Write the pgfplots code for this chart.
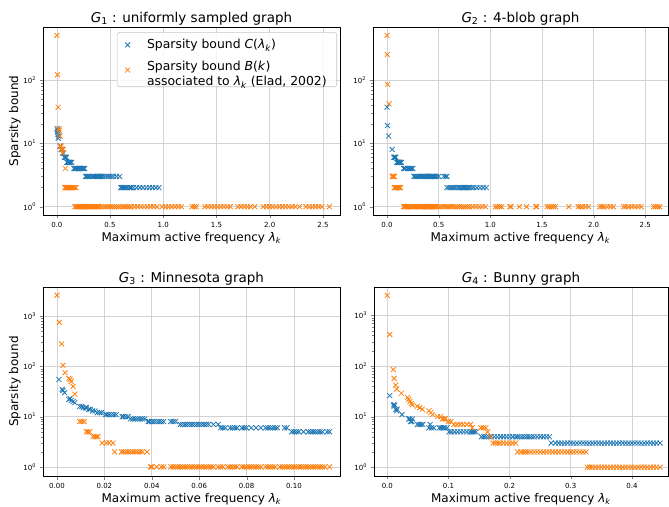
\documentclass[border=0pt]{standalone}
\usepackage{fontspec}
\setmainfont{DejaVu Sans}
\usepackage{pgfplots}
\pgfplotsset{compat=1.18}

\definecolor{tabblue}{HTML}{1F77B4}
\definecolor{taborange}{HTML}{FF7F0E}

\newcommand{\lk}{\textit{λ}\textsubscript{\textit{k}}}

\pgfplotsset{
  panel/.style={scale only axis, anchor=south west,
    grid=major, major grid style={gray!35, line width=0.6pt},
    tick align=outside, xtick pos=bottom, ytick pos=left,
    major tick length=3.5pt, minor tick length=2pt,
    axis line style={line width=0.6pt},
    ticklabel style={font=\fontsize{7}{8}\selectfont},
    title style={font=\fontsize{13.5}{15}\selectfont, yshift=-8pt},
    label style={font=\fontsize{12}{14}\selectfont},
    xlabel style={yshift=2pt}, ylabel style={yshift=-4pt},
    xlabel={Maximum active frequency \lk}},
  cbound/.style={only marks, mark=x, mark size=3.5pt, color=tabblue, mark options={line width=0.8pt}},
  bbound/.style={only marks, mark=x, mark size=3.5pt, color=taborange, mark options={line width=0.8pt}},
}

\begin{document}
\begin{tikzpicture}
\useasboundingbox (0,0) rectangle (669pt,506pt);

% G1
\begin{axis}[panel, ymode=log, at={(43pt,291pt)}, width=297pt, height=188pt,
  xmin=-0.13, xmax=2.66, ymin=0.74, ymax=680,
  xtick={0,0.5,1,1.5,2,2.5},
  xticklabels={0.0,0.5,1.0,1.5,2.0,2.5},
  ytick={1,10,100}, yticklabels={10\textsuperscript{0},10\textsuperscript{1},10\textsuperscript{2}},
  ylabel={Sparsity bound},
  title={\textit{G}\textsubscript{1} : uniformly sampled graph},
  legend cell align=left,
  legend style={at={(0.99,0.973)}, anchor=north east, font=\fontsize{12.4}{15}\selectfont,
    draw=gray!45, line width=0.6pt, rounded corners=2.5pt, fill=white, fill opacity=0.8, text opacity=1,
    row sep=6pt, column sep=15pt, inner xsep=8pt, inner ysep=5pt}]
\addplot[cbound] coordinates {(0.002,17)(0.005,15)(0.008,16)(0.010,14)(0.013,12)(0.018,13)(0.03,9)(0.034,9)(0.04,8)(0.045,8)(0.05,8)(0.055,7)(0.062,7)(0.07,6)(0.075,6)(0.08,6)(0.085,6)(0.09,6)(0.095,5)(0.1,5)(0.105,5)(0.11,5)(0.115,5)(0.12,5)(0.13,5)(0.14,5)
(0.16,4)(0.17,4)(0.175,4)(0.18,4)(0.19,4)(0.2,4)(0.205,4)(0.21,4)(0.215,4)(0.22,4)(0.23,4)(0.24,4)(0.25,4)(0.26,4)
(0.27,3)(0.28,3)(0.29,3)(0.30,3)(0.31,3)(0.33,3)(0.34,3)(0.35,3)(0.36,3)(0.37,3)(0.38,3)(0.385,3)(0.39,3)(0.4,3)(0.41,3)(0.42,3)(0.43,3)(0.45,3)(0.47,3)(0.49,3)(0.51,3)(0.53,3)(0.56,3)(0.59,3)
(0.6,2)(0.61,2)(0.62,2)(0.63,2)(0.64,2)(0.65,2)(0.66,2)(0.68,2)(0.69,2)(0.7,2)(0.72,2)(0.75,2)(0.78,2)(0.81,2)(0.84,2)(0.87,2)(0.9,2)(0.93,2)(0.96,2)};
\addlegendentry{Sparsity bound \textit{C}(\lk)}
\addplot[bbound] coordinates {(0.0,500)(0.006,120)(0.012,37)(0.02,17)(0.024,16)(0.03,13)(0.034,9)(0.04,9)(0.045,8)(0.05,8)(0.055,7)(0.06,8)(0.08,4)
(0.075,2)(0.085,2)(0.09,2)(0.1,2)(0.105,2)(0.11,2)(0.12,2)(0.13,2)(0.14,2)(0.15,2)(0.16,2)(0.17,2)(0.18,2)
(0.17,1)(0.18,1)(0.19,1)(0.2,1)(0.21,1)(0.22,1)(0.23,1)(0.24,1)(0.25,1)(0.26,1)(0.27,1)(0.28,1)(0.29,1)(0.3,1)(0.31,1)(0.32,1)(0.33,1)(0.34,1)(0.35,1)(0.36,1)(0.37,1)(0.38,1)(0.39,1)(0.4,1)(0.42,1)(0.44,1)(0.46,1)(0.48,1)(0.5,1)(0.52,1)(0.54,1)(0.56,1)(0.58,1)(0.6,1)(0.62,1)(0.64,1)(0.66,1)(0.68,1)(0.7,1)(0.73,1)(0.76,1)(0.79,1)(0.82,1)(0.85,1)(0.88,1)(0.91,1)(0.94,1)
(0.99,1)(1.02,1)(1.05,1)(1.08,1)(1.11,1)(1.14,1)(1.17,1)(1.27,1)(1.29,1)(1.31,1)(1.39,1)(1.42,1)(1.45,1)(1.48,1)(1.51,1)(1.54,1)(1.57,1)(1.6,1)(1.63,1)(1.7,1)(1.73,1)(1.76,1)(1.79,1)(1.82,1)(1.86,1)(1.94,1)(1.97,1)(2.0,1)(2.03,1)(2.06,1)(2.09,1)(2.12,1)(2.15,1)(2.18,1)(2.21,1)(2.24,1)(2.28,1)(2.34,1)(2.37,1)(2.4,1)(2.43,1)(2.46,1)(2.49,1)(2.56,1)};
\addlegendentry{\begin{tabular}{@{}l@{}}Sparsity bound \textit{B}(\textit{k})\\associated to \lk{} (Elad, 2002)\end{tabular}}
\end{axis}

% G2
\begin{axis}[panel, ymode=log, at={(373pt,291pt)}, width=295pt, height=188pt,
  xmin=-0.136, xmax=2.72, ymin=0.74, ymax=680,
  xtick={0,0.5,1,1.5,2,2.5},
  xticklabels={0.0,0.5,1.0,1.5,2.0,2.5},
  ytick={1,10,100}, yticklabels={10\textsuperscript{0},10\textsuperscript{1},10\textsuperscript{2}},
  title={\textit{G}\textsubscript{2} : 4-blob graph}]
\addplot[cbound] coordinates {(0.0,37)(0.005,19)(0.015,13)(0.05,8)(0.065,6)(0.07,6)(0.075,6)(0.08,6)(0.085,6)(0.095,5)(0.1,5)(0.105,5)(0.11,5)(0.115,5)(0.12,5)(0.13,5)(0.14,5)
(0.16,4)(0.17,4)(0.18,4)(0.2,4)(0.21,4)(0.22,4)(0.23,4)(0.24,4)(0.25,4)
(0.26,3)(0.27,3)(0.28,3)(0.29,3)(0.3,3)(0.31,3)(0.32,3)(0.33,3)(0.34,3)(0.35,3)(0.36,3)(0.37,3)(0.38,3)(0.39,3)(0.4,3)(0.41,3)(0.42,3)(0.43,3)(0.44,3)(0.45,3)(0.46,3)(0.47,3)(0.48,3)(0.5,3)(0.55,3)(0.57,3)(0.58,3)
(0.58,2)(0.6,2)(0.62,2)(0.64,2)(0.65,2)(0.67,2)(0.69,2)(0.7,2)(0.72,2)(0.73,2)(0.74,2)(0.75,2)(0.76,2)(0.77,2)(0.79,2)(0.8,2)(0.82,2)(0.84,2)(0.87,2)(0.9,2)(0.93,2)(0.96,2)};
\addplot[bbound] coordinates {(0.0,500)(0.003,250)(0.005,85)(0.02,42)
(0.05,3)(0.055,3)(0.06,3)(0.065,3)(0.07,3)
(0.07,2)(0.075,2)(0.08,2)(0.09,2)(0.1,2)(0.11,2)(0.12,2)(0.13,2)
(0.16,1)(0.17,1)(0.18,1)(0.19,1)(0.2,1)(0.21,1)(0.22,1)(0.23,1)(0.24,1)(0.25,1)(0.26,1)(0.27,1)(0.28,1)(0.29,1)(0.3,1)(0.31,1)(0.32,1)(0.33,1)(0.34,1)(0.35,1)(0.36,1)(0.37,1)(0.38,1)(0.39,1)(0.4,1)(0.41,1)(0.42,1)(0.43,1)(0.44,1)(0.45,1)(0.46,1)(0.47,1)(0.48,1)(0.5,1)(0.52,1)(0.54,1)(0.56,1)(0.58,1)(0.6,1)(0.62,1)(0.64,1)(0.66,1)(0.68,1)(0.7,1)(0.72,1)(0.74,1)(0.76,1)(0.78,1)(0.8,1)(0.83,1)(0.86,1)(0.89,1)(0.92,1)(0.95,1)
(1.05,1)(1.07,1)(1.09,1)(1.11,1)(1.19,1)(1.2,1)(1.28,1)(1.35,1)(1.44,1)(1.45,1)(1.55,1)(1.57,1)(1.59,1)(1.61,1)(1.63,1)(1.76,1)(1.85,1)(1.87,1)(1.89,1)(1.92,1)(1.95,1)(2.06,1)(2.08,1)(2.1,1)(2.13,1)(2.16,1)(2.19,1)(2.29,1)(2.31,1)(2.34,1)(2.37,1)(2.4,1)(2.43,1)(2.46,1)(2.58,1)(2.6,1)(2.62,1)(2.64,1)};
\end{axis}

% G3
\begin{axis}[panel, ymode=log, at={(43pt,30pt)}, width=297pt, height=189pt,
  xmin=-0.0059, xmax=0.1194, ymin=0.66, ymax=3800,
  xtick={0,0.02,0.04,0.06,0.08,0.1,0.12},
  xticklabels={0.00,0.02,0.04,0.06,0.08,0.10,0.12},
  ytick={1,10,100,1000}, yticklabels={10\textsuperscript{0},10\textsuperscript{1},10\textsuperscript{2},10\textsuperscript{3}},
  ylabel={Sparsity bound},
  title={\textit{G}\textsubscript{3} : Minnesota graph}]
\addplot[cbound] coordinates {(0.0008,55)(0.0022,35)(0.0025,33)(0.0032,30)(0.005,22)(0.0055,23)(0.006,21)(0.0068,20)(0.0075,19)(0.0096,16)(0.0105,16)(0.011,15)(0.012,15)(0.0124,15)(0.0135,14)(0.014,14)(0.015,13)(0.016,13)(0.017,12)(0.018,12)(0.0187,12)
(0.0205,11)(0.021,11)(0.022,11)(0.023,11)(0.024,11)(0.025,11)
(0.0275,10)(0.028,10)(0.029,10)(0.030,10)
(0.031,9)(0.032,9)(0.033,9)(0.034,9)(0.035,9)(0.036,9)(0.037,9)
(0.0385,8)(0.039,8)(0.040,8)(0.041,8)(0.042,8)(0.043,8)(0.044,8)(0.045,8)(0.048,8)(0.049,8)(0.050,8)
(0.052,7)(0.053,7)(0.054,7)(0.055,7)(0.056,7)(0.057,7)(0.058,7)(0.059,7)(0.060,7)(0.061,7)(0.062,7)(0.063,7)(0.064,7)(0.066,7)(0.068,7)
(0.069,6)(0.070,6)(0.071,6)(0.073,6)(0.074,6)(0.075,6)(0.076,6)(0.078,6)(0.079,6)(0.080,6)(0.082,6)(0.084,6)(0.086,6)(0.088,6)(0.089,6)(0.090,6)(0.091,6)(0.092,6)(0.093,6)(0.096,6)(0.097,6)
(0.099,5)(0.100,5)(0.101,5)(0.102,5)(0.104,5)(0.106,5)(0.107,5)(0.108,5)(0.109,5)(0.110,5)(0.111,5)(0.112,5)(0.114,5)(0.115,5)};
\addplot[bbound] coordinates {(0.0,2600)(0.001,750)(0.002,280)(0.0025,105)(0.0034,75)(0.005,58)(0.0055,55)(0.006,50)(0.0068,40)(0.0075,28)
(0.0096,8)(0.0105,8)(0.0115,8)
(0.0124,5)(0.013,5)(0.0138,5)
(0.0152,4)(0.016,4)(0.0168,4)(0.0173,4)
(0.019,3)(0.0208,3)(0.022,3)(0.0236,3)
(0.0243,2)(0.0272,2)(0.028,2)(0.029,2)(0.030,2)(0.031,2)(0.032,2)(0.033,2)(0.034,2)(0.035,2)(0.036,2)(0.038,2)
(0.0395,1)(0.040,1)(0.042,1)(0.044,1)(0.045,1)(0.048,1)(0.049,1)(0.050,1)(0.051,1)(0.052,1)(0.053,1)(0.054,1)(0.055,1)(0.056,1)(0.057,1)(0.058,1)(0.059,1)(0.060,1)(0.061,1)(0.062,1)(0.063,1)(0.064,1)(0.065,1)(0.066,1)(0.068,1)(0.069,1)(0.070,1)(0.072,1)(0.073,1)(0.074,1)(0.075,1)(0.076,1)(0.078,1)(0.079,1)(0.080,1)(0.081,1)(0.082,1)(0.083,1)(0.084,1)(0.085,1)(0.086,1)(0.088,1)(0.089,1)(0.090,1)(0.091,1)(0.092,1)(0.094,1)(0.095,1)(0.096,1)(0.097,1)(0.098,1)(0.099,1)(0.100,1)(0.101,1)(0.102,1)(0.103,1)(0.104,1)(0.105,1)(0.106,1)(0.107,1)(0.108,1)(0.109,1)(0.110,1)(0.111,1)(0.112,1)(0.113,1)(0.115,1)};
\end{axis}

% G4
\begin{axis}[panel, ymode=log, at={(374pt,30pt)}, width=294pt, height=189pt,
  xmin=-0.0218, xmax=0.459, ymin=0.67, ymax=3650,
  xtick={0,0.1,0.2,0.3,0.4},
  xticklabels={0.0,0.1,0.2,0.3,0.4},
  ytick={1,10,100,1000}, yticklabels={10\textsuperscript{0},10\textsuperscript{1},10\textsuperscript{2},10\textsuperscript{3}},
  title={\textit{G}\textsubscript{4} : Bunny graph}]
\addplot[cbound] coordinates {(0.004,26)(0.010,17)(0.011,16)(0.012,17)(0.014,14)(0.015,13)(0.016,14)(0.024,11)(0.035,9)(0.037,9)(0.038,8)(0.040,8)(0.041,9)(0.049,7)(0.052,7)(0.055,7)(0.058,7)(0.068,6)(0.070,7)(0.072,6)(0.076,6)(0.085,6)(0.088,6)(0.091,6)(0.094,6)(0.098,6)
(0.101,5)(0.105,5)(0.11,5)(0.115,5)(0.12,5)(0.125,5)(0.13,5)(0.135,5)(0.138,5)(0.14,5)(0.142,5)(0.145,5)
(0.154,4)(0.158,4)(0.162,4)(0.166,4)(0.17,4)(0.175,4)(0.18,4)(0.185,4)(0.19,4)(0.195,4)(0.2,4)(0.205,4)(0.21,4)(0.213,4)(0.216,4)(0.22,4)(0.224,4)(0.228,4)(0.232,4)(0.236,4)(0.24,4)(0.245,4)(0.25,4)(0.255,4)(0.26,4)(0.265,4)
(0.268,3)(0.275,3)(0.28,3)(0.285,3)(0.29,3)(0.295,3)(0.30,3)(0.305,3)(0.31,3)(0.315,3)(0.32,3)(0.325,3)(0.33,3)(0.335,3)(0.34,3)(0.345,3)(0.35,3)(0.355,3)(0.36,3)(0.365,3)(0.37,3)(0.375,3)(0.38,3)(0.385,3)(0.39,3)(0.395,3)(0.40,3)(0.405,3)(0.41,3)(0.415,3)(0.42,3)(0.425,3)(0.43,3)(0.435,3)(0.44,3)(0.446,3)};
\addplot[bbound] coordinates {(0.0,2500)(0.004,420)(0.0098,85)(0.011,57)(0.0136,42)(0.0153,35)(0.023,29)(0.033,24)(0.035,22)(0.037,20)(0.039,18)(0.041,17)(0.049,16)(0.053,15)(0.057,14)(0.068,13)(0.071,12)(0.074,11)(0.082,10)(0.087,10)(0.09,9)(0.093,9)(0.095,9)(0.1,8)(0.104,8)(0.109,7)(0.114,7)(0.119,7)(0.124,7)(0.13,7)(0.136,7)(0.139,6)(0.153,6)(0.157,6)(0.161,6)(0.164,5)(0.169,4)
(0.173,3)(0.177,3)(0.181,3)(0.185,3)(0.19,3)(0.195,3)(0.2,3)(0.205,3)(0.21,3)
(0.213,2)(0.218,2)(0.222,2)(0.226,2)(0.23,2)(0.235,2)(0.24,2)(0.245,2)(0.25,2)(0.255,2)(0.26,2)(0.265,2)(0.27,2)(0.275,2)(0.28,2)(0.285,2)(0.29,2)(0.295,2)(0.3,2)(0.305,2)(0.31,2)(0.315,2)(0.32,2)(0.325,2)
(0.327,1)(0.331,1)(0.335,1)(0.34,1)(0.345,1)(0.35,1)(0.355,1)(0.36,1)(0.365,1)(0.37,1)(0.375,1)(0.38,1)(0.385,1)(0.39,1)(0.395,1)(0.40,1)(0.405,1)(0.41,1)(0.415,1)(0.42,1)(0.425,1)(0.43,1)(0.435,1)(0.44,1)(0.446,1)};
\end{axis}
\end{tikzpicture}
\end{document}
